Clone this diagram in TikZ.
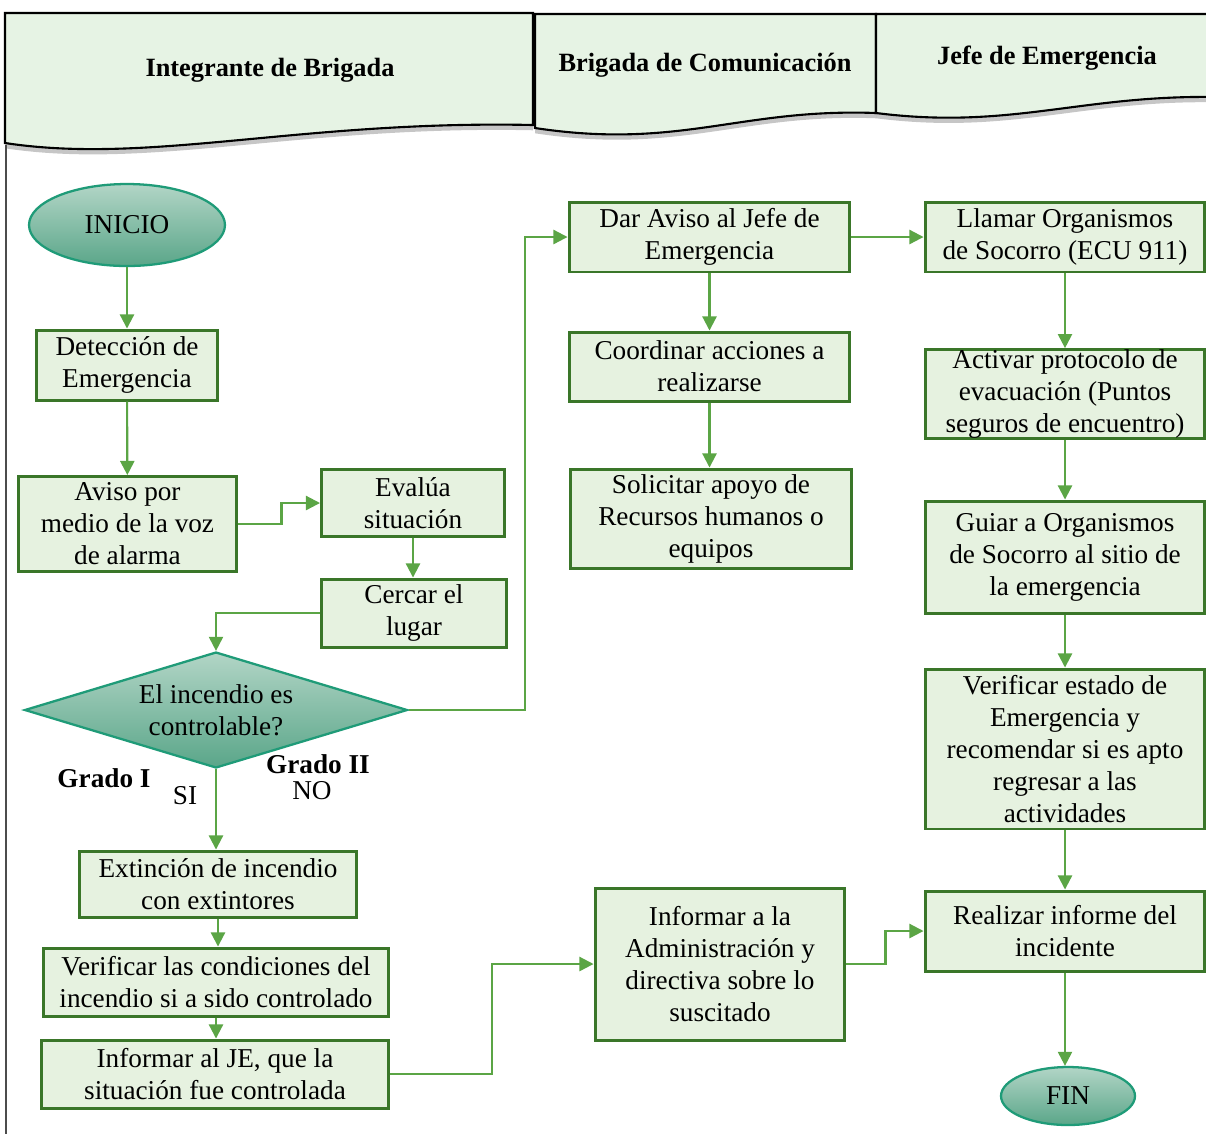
\documentclass[tikz,border=0pt]{standalone}
\usepackage{fontspec}
\setmainfont{Liberation Serif}
\usetikzlibrary{shapes.geometric,shadows,arrows.meta}

\definecolor{boxfill}{HTML}{E6F2E0}
\definecolor{boxline}{HTML}{3A7629}
\definecolor{flowline}{HTML}{5BA545}
\definecolor{headfill}{HTML}{E6F3E4}
\definecolor{termtop}{HTML}{B2D5C6}
\definecolor{termbot}{HTML}{5AA689}
\definecolor{termline}{HTML}{1F9B78}

\tikzset{
  stepbox/.style={draw=boxline,fill=boxfill,line width=1.7pt,align=center,inner sep=1pt,
    font=\fontsize{15.5}{18.2}\selectfont},
  terminal/.style={ellipse,draw=termline,line width=1.3pt,top color=termtop,bottom color=termbot,
    font=\fontsize{15.5}{18.2}\selectfont},
  decision/.style={diamond,aspect=3.3,draw=termline,line width=1.3pt,top color=termtop,bottom color=termbot,
    align=center,inner sep=0pt,font=\fontsize{15.5}{18.2}\selectfont},
  flow/.style={draw=flowline,line width=1.2pt,-{Triangle[length=8pt,width=8pt]}},
  lanehead/.style={fill=headfill,draw=black,line width=1.2pt,
    drop shadow={shadow xshift=0pt,shadow yshift=-3pt,opacity=0.45}},
  lanetitle/.style={font=\fontsize{15}{18}\selectfont\bfseries},
  tag/.style={font=\fontsize{15.5}{18.2}\selectfont}
}

\begin{document}
\begin{tikzpicture}[x=0.02cm,y=-0.02cm]
  \useasboundingbox (0,0) rectangle (1206,1134);

  \draw[lanehead] (5,13) -- (533,13) -- (533,125) .. controls (300,120) and (150,165) .. (5,143) -- cycle;
  \draw[lanehead] (535,14) -- (876,14) -- (876,113) .. controls (740,108) and (680,150) .. (535,128) -- cycle;
  \draw[lanehead] (876,14) -- (1215,14) -- (1215,97) .. controls (1080,95) and (1010,130) .. (876,113) -- cycle;
  \node at(270,70)[lanetitle](lane1){Integrante de Brigada};
  \node at(705,65)[lanetitle](lane2){Brigada de Comunicación};
  \node at(1047,58)[lanetitle](lane3){Jefe de Emergencia};
  \draw[black!70,line width=0.8pt] (6,145) -- (6,1134);

  \node at(127,225)[terminal,minimum width=3.92cm,minimum height=1.64cm](inicio){INICIO};
  \node at(127,365)[stepbox,minimum width=3.64cm,minimum height=1.4cm](detec){Detección de\\Emergencia};
  \node at(127.5,524)[stepbox,minimum width=4.38cm,minimum height=1.9cm](aviso){Aviso por\\medio de la voz\\de alarma};
  \node at(413,503)[stepbox,minimum width=3.66cm,minimum height=1.34cm](evalua){Evalúa\\situación};
  \node at(414,613)[stepbox,minimum width=3.72cm,minimum height=1.36cm](cercar){Cercar el\\lugar};
  \node at(216,710)[decision,minimum width=7.66cm,minimum height=2.32cm](decide){El incendio es\\controlable?};
  \node at(104,778)[tag,font=\fontsize{15.5}{18.2}\selectfont\bfseries](gradoa){Grado I};
  \node at(185,796)[tag](si){SI};
  \node at(318,764)[tag,font=\fontsize{15.5}{18.2}\selectfont\bfseries](gradob){Grado II};
  \node at(312,791)[tag](no){NO};
  \node at(218,884)[stepbox,minimum width=5.54cm,minimum height=1.32cm](extin){Extinción de incendio\\con extintores};
  \node at(216,982)[stepbox,minimum width=6.92cm,minimum height=1.36cm](verif){Verificar las condiciones del\\incendio si a sido controlado};
  \node at(215,1074)[stepbox,minimum width=6.94cm,minimum height=1.36cm](infje){Informar al JE, que la\\situación fue controlada};

  \node at(709.5,237)[stepbox,minimum width=5.62cm,minimum height=1.4cm](daraviso){Dar Aviso al Jefe de\\Emergencia};
  \node at(709.5,366.5)[stepbox,minimum width=5.62cm,minimum height=1.38cm](coord){Coordinar acciones a\\realizarse};
  \node at(711,518.5)[stepbox,minimum width=5.64cm,minimum height=1.98cm](solic){Solicitar apoyo de\\Recursos humanos o\\equipos};
  \node at(720,964)[stepbox,minimum width=5cm,minimum height=3.04cm](infadm){Informar a la\\Administración y\\directiva sobre lo\\suscitado};

  \node at(1065,237)[stepbox,minimum width=5.6cm,minimum height=1.4cm](llamar){Llamar Organismos\\de Socorro (ECU 911)};
  \node at(1065,394)[stepbox,minimum width=5.6cm,minimum height=1.68cm,inner sep=0pt](activar){Activar protocolo de\\evacuación (Puntos\\seguros de encuentro)};
  \node at(1065,557)[stepbox,minimum width=5.6cm,minimum height=2.24cm](guiar){Guiar a Organismos\\de Socorro al sitio de\\la emergencia};
  \node at(1065,749)[stepbox,minimum width=5.6cm,minimum height=3.2cm](verest){Verificar estado de\\Emergencia y\\recomendar si es apto\\regresar a las\\actividades};
  \node at(1065,931)[stepbox,minimum width=5.6cm,minimum height=1.6cm](realiz){Realizar informe del\\incidente};
  \node at(1068,1096)[terminal,minimum width=2.68cm,minimum height=1.16cm](fin){FIN};

  \draw[flow] (inicio) -- (detec);
  \draw[flow] (detec) -- (aviso);
  \draw[flow] (aviso.east) -- ++(43,0) |- (evalua.west);
  \draw[flow] (evalua.south) -- (evalua.south |- cercar.north);
  \draw[flow] (cercar.west) -| (decide.north);
  \draw[flow] (decide.east) -- ++(116,0) |- (daraviso.west);
  \draw[flow] (decide.south) -- (decide.south |- extin.north);
  \draw[flow] (extin.south) -- (extin.south |- verif.north);
  \draw[flow] (verif.south) -- (verif.south |- infje.north);
  \draw[flow] (infje.east) -- ++(102,0) |- (infadm.west);

  \draw[flow] (daraviso) -- (coord);
  \draw[flow] (coord.south) -- (coord.south |- solic.north);
  \draw[flow] (daraviso) -- (llamar);
  \draw[flow] (llamar) -- (activar);
  \draw[flow] (activar) -- (guiar);
  \draw[flow] (guiar) -- (verest);
  \draw[flow] (verest) -- (realiz);
  \draw[flow] (infadm.east) -- ++(39,0) |- (realiz.west);
  \draw[flow] (realiz.south) -- (realiz.south |- fin.north);
\end{tikzpicture}
\end{document}
